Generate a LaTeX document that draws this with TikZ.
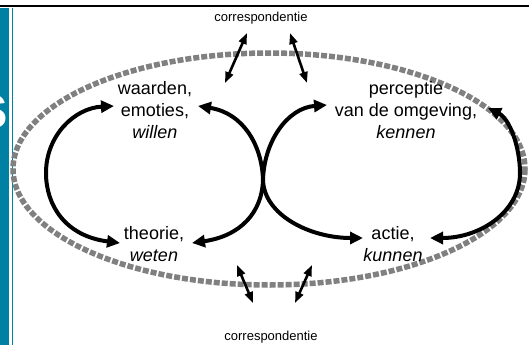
\documentclass[tikz,border=0pt]{standalone}
\usepackage{fontspec}
\setmainfont{Liberation Sans}
\usetikzlibrary{arrows.meta}
\definecolor{barblue}{RGB}{0,128,162}
\definecolor{ringgrey}{RGB}{128,128,128}
\tikzset{
  lbl/.style={align=center, inner sep=0pt, font=\fontsize{18}{22}\selectfont},
  corr/.style={inner sep=0pt, font=\fontsize{13}{15}\selectfont},
  loop/.style={line width=4pt, {Triangle[length=13pt,width=12pt]}-{Triangle[length=13pt,width=12pt]}},
  corrarrow/.style={line width=2.6pt, {Triangle[length=11pt,width=8pt]}-{Triangle[length=11pt,width=8pt]}},
  ring/.style={draw=ringgrey, line width=5.5pt, dash pattern=on 6pt off 2pt}
}
\begin{document}
\begin{tikzpicture}[x=1pt,y=-1pt]
\useasboundingbox (0,0) rectangle (529,345);
% frame
\fill[barblue] (0,8) rectangle (9,345);
\draw[barblue, line width=1pt] (12,8) -- (12,345);
\draw[black, line width=2.5pt] (0,6) -- (529,6);
\begin{scope}
  \clip (0,8) rectangle (9,345);
  \node[anchor=base, inner sep=0pt, text=white, font=\fontsize{63}{63}\selectfont\bfseries] (sletter) at (-9,128) {s};
\end{scope}
% grey ring
\draw[ring] (269,169) ellipse [x radius=256, y radius=116];
% labels
\node[lbl] (will) at (155,110) {waarden,\\emoties,\\\itshape willen};
\node[lbl] (ken) at (406,110) {perceptie\\van de omgeving,\\\itshape kennen};
\node[lbl] (weet) at (154,244) {theorie,\\\itshape weten};
\node[lbl] (kun) at (393,244) {actie,\\\itshape kunnen};
\node[corr] (ctop) at (261,18) {correspondentie};
\node[corr] (cbot) at (271,337) {correspondentie};
% loop end points
\coordinate (wl) at (114,106);
\coordinate (wr) at (198,106);
\coordinate (tl) at (120,243);
\coordinate (tr) at (192,243);
\coordinate (kl) at (327,105);
\coordinate (kr) at (488,108);
\coordinate (al) at (363,238);
\coordinate (ar) at (430,238);
\coordinate (cross) at (263,180);
% loops
\draw[loop] (tl) .. controls (65,236) and (46,205) .. (46,173) .. controls (46,135) and (75,108) .. (wl);
\draw[loop] (wr) .. controls (243,113) and (262,145) .. (cross) .. controls (264,215) and (310,238) .. (al);
\draw[loop] (tr) .. controls (240,236) and (262,213) .. (cross) .. controls (264,142) and (287,108) .. (kl);
\draw[loop] (kr) .. controls (510,119) and (520,148) .. (520,173) .. controls (520,212) and (480,238) .. (ar);
% correspondence arrows
\coordinate (c1a) at (247,33); \coordinate (c1b) at (225,83);
\coordinate (c2a) at (290,33); \coordinate (c2b) at (307,83);
\coordinate (c3a) at (237,265); \coordinate (c3b) at (253,303);
\coordinate (c4a) at (312,265); \coordinate (c4b) at (295,303);
\draw[corrarrow] (c1a) -- (c1b);
\draw[corrarrow] (c2a) -- (c2b);
\draw[corrarrow] (c3a) -- (c3b);
\draw[corrarrow] (c4a) -- (c4b);
\end{tikzpicture}
\end{document}
